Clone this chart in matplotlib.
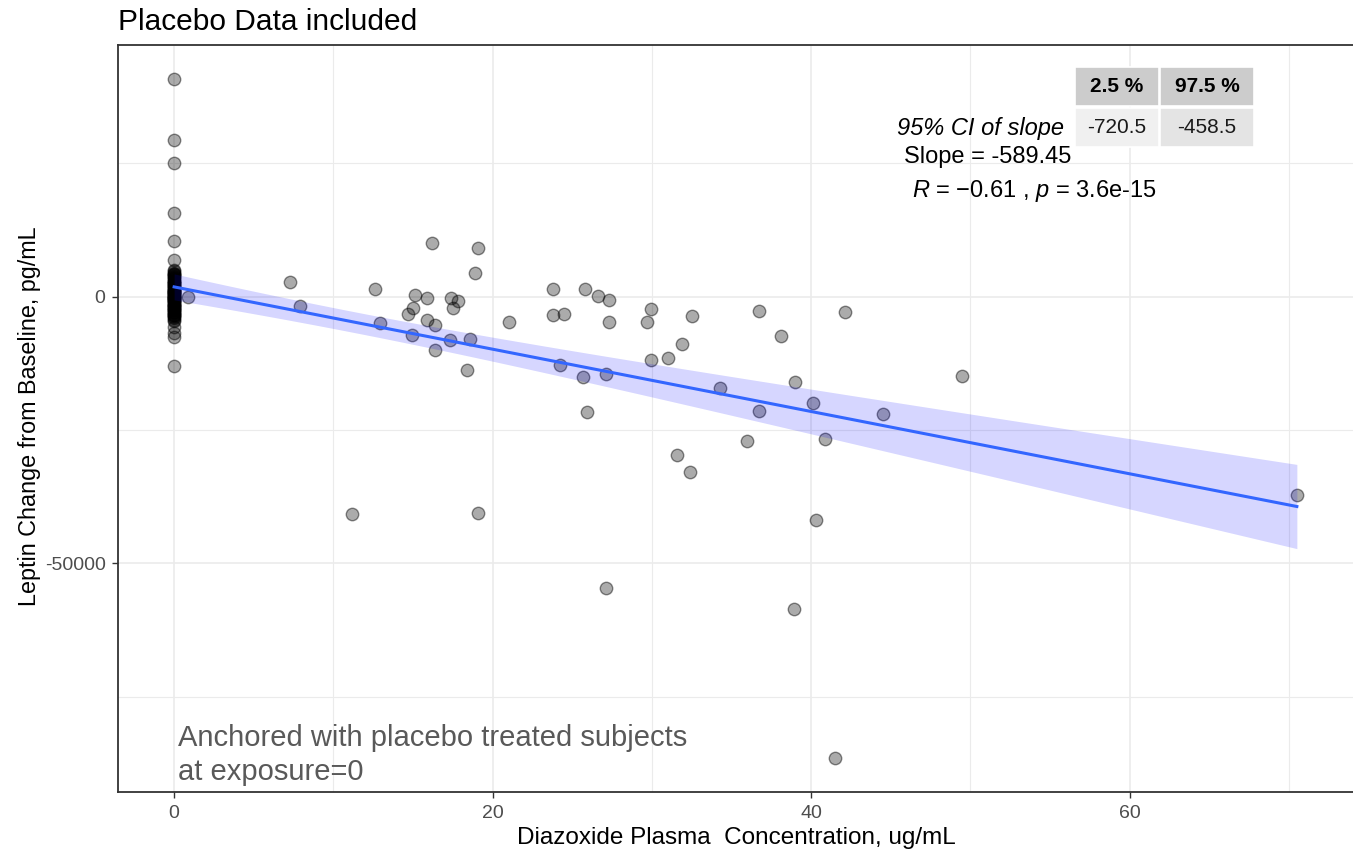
import numpy as np
import matplotlib
matplotlib.use("Agg")
import matplotlib.pyplot as plt
from matplotlib.patches import Rectangle

plt.rcParams['font.family'] = ['Liberation Sans', 'DejaVu Sans']
plt.rcParams['mathtext.fontset'] = 'custom'
plt.rcParams['mathtext.rm'] = 'Liberation Sans'
plt.rcParams['mathtext.it'] = 'Liberation Sans:italic'
plt.rcParams['axes.unicode_minus'] = False

# ---------------- data ----------------
# leptin change of placebo subjects (exposure = 0); most overlap in the dense cluster
placebo_y = [40800, 29400, 25000, 15700, 10400, 6800, 5000, 4800, 4500, 4300,
             4200, 4000, 3800, 3600, 3500, 3300, 3000, 2900, 2700, 2600,
             2500, 2300, 2200, 2000, 1900, 1800, 1700, 1500, 1300, 1200,
             1100, 1000, 900, 800, 700, 600, 500, 400, 300, 200,
             100, 0, -100, -200, -300, -300, -500, -700, -700, -800,
             -900, -1100, -1200, -1300, -1500, -1600, -1700, -1800, -1900, -2100,
             -2300, -2400, -2500, -2600, -2800, -2900, -3100, -3300, -3400, -3500,
             -3700, -3900, -4000, -4300, -4600, -5700, -6800, -7600, -13000]

active_conc = [0.9, 7.25, 7.9, 11.2, 12.6, 12.9, 14.7, 15.0, 14.96, 15.1,
               15.9, 15.9, 16.2, 16.4, 16.4, 17.3, 17.4, 17.85, 17.5, 18.4,
               18.6, 18.9, 19.1, 19.1, 21.0, 23.8, 23.8, 24.2, 24.5, 25.7,
               25.8, 25.9, 26.6, 27.1, 27.1, 27.3, 27.3, 29.7, 29.95, 29.95,
               31.0, 31.6, 31.9, 32.4, 32.5, 34.3, 36.0, 36.7, 36.7, 38.1,
               38.9, 39.0, 40.1, 40.3, 40.9, 41.5, 42.1, 44.5, 49.5, 70.5]
active_y = [0, 2700, -1750, -40800, 1500, -4950, -3200, -2070, -7140, 380,
            -250, -4450, 10100, -5260, -9960, -8200, -250, -880, -2130, -13700,
            -7950, 4450, 9200, -40500, -4760, 1500, -3500, -12780, -3260, -15100,
            1500, -21680, 60, -14480, -54700, -560, -4760, -4760, -2380, -11840,
            -11530, -29700, -8960, -32960, -3570, -17170, -27000, -2630, -21380, -7390,
            -58500, -16040, -19860, -41900, -26700, -86500, -2880, -22000, -14850, -37160]

title = "Placebo Data included"
xlabel = "Diazoxide Plasma  Concentration, ug/mL"
ylabel = "Leptin Change from Baseline, pg/mL"
x_ticks = [0, 20, 40, 60]
x_minor = [10, 30, 50, 70]
y_ticks = [-50000, 0]
y_minor = [-75000, -25000, 25000]
ci_header = ["2.5 %", "97.5 %"]
ci_values = ["-720.5", "-458.5"]
ci_rowname = "95% CI of slope"
slope_text = "Slope = -589.45"
r_text = "$R$ = \u22120.61 , $p$ = 3.6e-15"
note_text = "Anchored with placebo treated subjects\nat exposure=0"

# ---------------- linear fit with 95% band ----------------
x = np.concatenate([np.zeros(len(placebo_y)), np.array(active_conc)])
y = np.concatenate([np.array(placebo_y, float), np.array(active_y, float)])
n = len(x)
b1, b0 = np.polyfit(x, y, 1)
resid = y - (b0 + b1 * x)
s = np.sqrt(np.sum(resid ** 2) / (n - 2))
xbar = x.mean()
sxx = np.sum((x - xbar) ** 2)
xs = np.linspace(x.min(), x.max(), 80)
fit = b0 + b1 * xs
se = s * np.sqrt(1.0 / n + (xs - xbar) ** 2 / sxx)
tval = 1.977
lo, hi = fit - tval * se, fit + tval * se

# ---------------- figure ----------------
W, H = 1353, 850
fig = plt.figure(figsize=(W / 100, H / 100), dpi=100)
ax = fig.add_axes([118 / W, 1 - 792 / H, 1235 / W, 747 / H])

xr = x.max() - x.min()
yr = y.max() - y.min()
ax.set_xlim(x.min() - 0.05 * xr, x.max() + 0.05 * xr)
ax.set_ylim(y.min() - 0.05 * yr, y.max() + 0.05 * yr)

ax.set_xticks(x_ticks)
ax.set_yticks(y_ticks)
ax.set_xticks(x_minor, minor=True)
ax.set_yticks(y_minor, minor=True)
ax.grid(which='major', color='#ebebeb', linewidth=1.2, zorder=0)
ax.grid(which='minor', color='#ebebeb', linewidth=0.8, zorder=0)
ax.set_axisbelow(True)
ax.tick_params(which='minor', length=0)
ax.tick_params(which='major', length=4, width=1, color='#333333',
               labelcolor='#4d4d4d', labelsize=14)
ax.tick_params(axis='x', pad=5)
ax.tick_params(axis='y', pad=5)
for sp in ['top', 'left', 'bottom']:
    ax.spines[sp].set_color('#333333')
    ax.spines[sp].set_linewidth(1.3)
ax.spines['right'].set_visible(False)

ax.scatter(x, y, s=80, facecolor=(0, 0, 0, 0.33), edgecolor=(0, 0, 0, 0.45),
           linewidth=1.0, zorder=2)
ax.fill_between(xs, lo, hi, color='blue', alpha=0.16, linewidth=0, zorder=3)
ax.plot(xs, fit, color='#3366FF', linewidth=2.2, zorder=4)

# titles and labels
fig.text(118 / W, 1 - 22 / H, title, fontsize=21.5, ha='left', va='center', color='black')
fig.text(736 / W, 1 - 838 / H, xlabel, fontsize=17.5, ha='center', va='center', color='black')
fig.text(30 / W, 1 - 416 / H, ylabel, fontsize=16.8, ha='center', va='center',
         rotation=90, color='black')

# CI table
hdr_y0, hdr_y1 = 67, 106
row_y0, row_y1 = 108, 147
cols = [(1075, 1159), (1160, 1254)]
row_colors = ['#f0f0f0', '#e4e4e4']
for i, (c0, c1) in enumerate(cols):
    fig.patches.append(Rectangle((c0 / W, 1 - hdr_y1 / H), (c1 - c0) / W, (hdr_y1 - hdr_y0) / H,
                                 transform=fig.transFigure, facecolor='#cccccc',
                                 edgecolor='white', linewidth=1.2))
    fig.patches.append(Rectangle((c0 / W, 1 - row_y1 / H), (c1 - c0) / W, (row_y1 - row_y0) / H,
                                 transform=fig.transFigure, facecolor=row_colors[i],
                                 edgecolor='white', linewidth=1.2))
    cx = (c0 + c1) / 2 / W
    fig.text(cx, 1 - (hdr_y0 + hdr_y1) / 2 / H, ci_header[i], fontsize=15,
             fontweight='bold', ha='center', va='center')
    fig.text(cx, 1 - (row_y0 + row_y1) / 2 / H, ci_values[i], fontsize=15,
             ha='center', va='center', color='#1a1a1a')
fig.text(1064 / W, 1 - 129 / H, ci_rowname, fontsize=17, style='italic',
         ha='right', va='center')

fig.text(988 / W, 1 - 157 / H, slope_text, fontsize=17, ha='center', va='center')
fig.text(1034 / W, 1 - 191 / H, r_text, fontsize=17, ha='center', va='center')

fig.text(178 / W, 1 - 755 / H, note_text, fontsize=21, ha='left', va='center',
         color='#595959', linespacing=1.3)

fig.savefig("out.png", dpi=100)
